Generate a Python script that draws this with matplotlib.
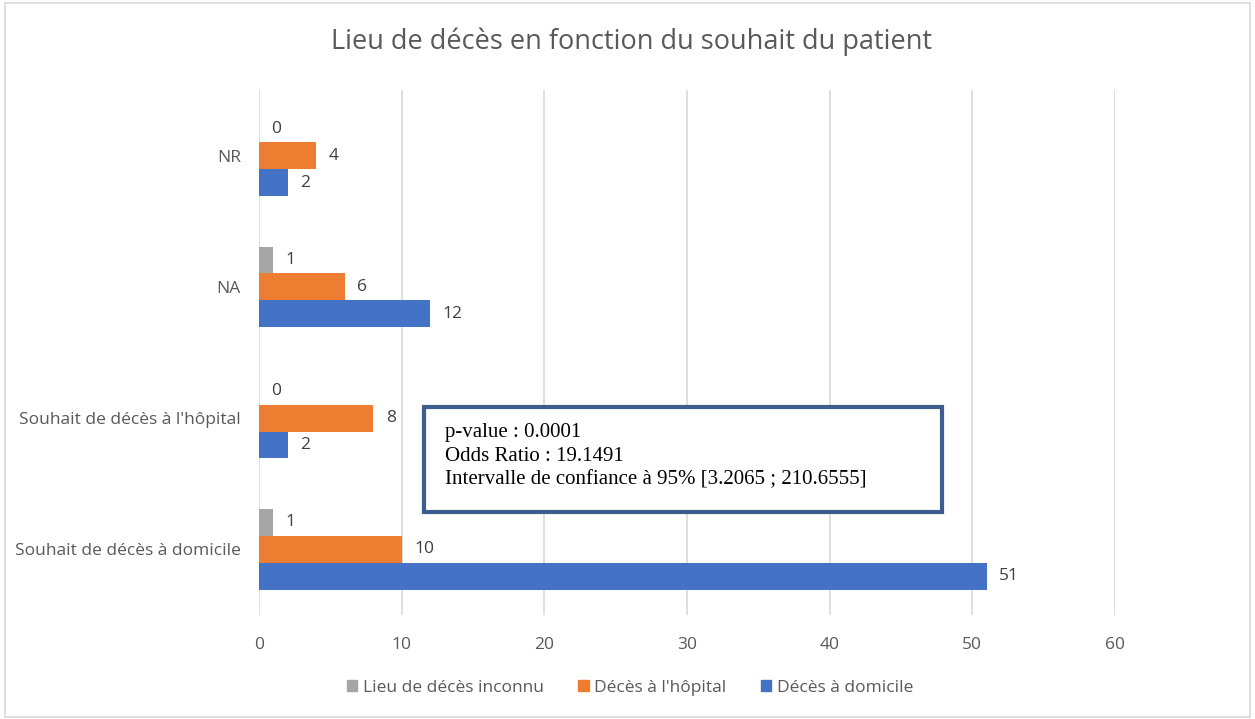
import matplotlib
matplotlib.use("Agg")
import matplotlib.pyplot as plt
from matplotlib.patches import Rectangle, Patch
import numpy as np

categories = ["Souhait de décès à domicile", "Souhait de décès à l'hôpital", "NA", "NR"]
series_names = ["Décès à domicile", "Décès à l'hôpital", "Lieu de décès inconnu"]
domicile = [51, 2, 12, 2]
hopital = [10, 8, 6, 4]
inconnu = [1, 0, 1, 0]
x_ticks = [0, 10, 20, 30, 40, 50, 60]
stats_lines = ["p-value : 0.0001", "Odds Ratio : 19.1491",
               "Intervalle de confiance à 95% [3.2065 ; 210.6555]"]
title = "Lieu de décès en fonction du souhait du patient"

colors = ["#4472C4", "#ED7D31", "#A5A5A5"]
font = ["Open Sans", "DejaVu Sans"]

fig = plt.figure(figsize=(12.55, 7.19), dpi=100)
ax = fig.add_axes([259/1255, 1-615/719, (1115-259)/1255, (615-90)/719])

y = np.arange(len(categories))
h = 0.205
offsets = [-h, 0, h]
for vals, off, c, name in zip([domicile, hopital, inconnu], offsets, colors, series_names):
    bars = ax.barh(y + off, vals, height=h, color=c, label=name, zorder=3)
    for b, v in zip(bars, vals):
        ax.annotate(str(v), (b.get_width(), b.get_y() + b.get_height()/2),
                    xytext=(9, 0), textcoords="offset points", va="center", ha="left",
                    fontsize=12.5, color="#404040", family=font)

ax.set_xlim(0, 60)
ax.set_ylim(-0.5, 3.5)
ax.set_xticks(x_ticks)
ax.set_xticklabels([str(t) for t in x_ticks], family=font, fontsize=12.5, color="#595959")
ax.set_yticks(y)
ax.set_yticklabels(categories, family=font, fontsize=12.5, color="#595959")
ax.tick_params(axis="x", length=0, pad=16)
ax.tick_params(axis="y", length=0, pad=13)
ax.grid(axis="x", color="#D9D9D9", linewidth=1.2, zorder=0)
for s in ax.spines.values():
    s.set_visible(False)

fig.text(632/1255, 1-42/719, title, ha="center", va="center", fontsize=19.5,
         color="#595959", family=font)

# stats box
box = Rectangle((424/1255, 1-512/719), (942-424)/1255, (512-407)/719,
                transform=fig.transFigure, facecolor="white", edgecolor="#3B5E8C",
                linewidth=3, zorder=5)
fig.add_artist(box)
for i, line in enumerate(stats_lines):
    fig.text(445/1255, 1-(433 + i*23.5)/719, line, ha="left", va="center",
             fontsize=15, family="Liberation Serif", color="black", zorder=6)

# legend
handles = [Patch(color=colors[2]), Patch(color=colors[1]), Patch(color=colors[0])]
labels = [series_names[2], series_names[1], series_names[0]]
leg = fig.legend(handles, labels, loc="center", bbox_to_anchor=(630/1255, 1-688/719),
                 ncol=3, frameon=False, prop={"family": font, "size": 12.5},
                 handlelength=0.6, handleheight=0.6, handletextpad=0.3, columnspacing=2.0)
for t in leg.get_texts():
    t.set_color("#595959")

# outer border
fig.add_artist(Rectangle((5/1255, 2/719), 1245/1255, 714/719, transform=fig.transFigure,
                         fill=False, edgecolor="#D9D9D9", linewidth=1.2))

fig.savefig("out.png", dpi=100)
